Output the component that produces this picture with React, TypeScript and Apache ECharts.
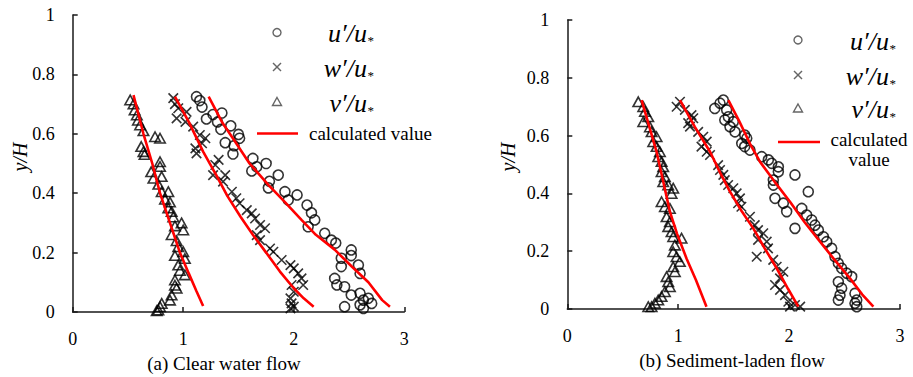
import React, { useEffect, useRef } from "react";
import * as echarts from "echarts";

// ---------- Data: (a) Clear water flow ----------
const uClear: number[][] = [
  [1.12, 0.725], [1.15, 0.712], [1.17, 0.69], [1.27, 0.665], [1.21, 0.65], [1.35, 0.67], [1.31, 0.64],
  [1.34, 0.615], [1.43, 0.627], [1.5, 0.598], [1.51, 0.585], [1.38, 0.57], [1.46, 0.56], [1.45, 0.532],
  [1.63, 0.517], [1.75, 0.5], [1.62, 0.475], [1.665, 0.489], [1.78, 0.44], [1.77, 0.418], [1.86, 0.461],
  [1.92, 0.405], [2.03, 0.394], [1.95, 0.377], [2.12, 0.36], [2.16, 0.334], [2.19, 0.31], [2.13, 0.287],
  [2.28, 0.265], [2.34, 0.242], [2.38, 0.232], [2.43, 0.181], [2.52, 0.209], [2.52, 0.19], [2.585, 0.158],
  [2.6, 0.13], [2.43, 0.153], [2.37, 0.113], [2.39, 0.091], [2.46, 0.085], [2.52, 0.057], [2.6, 0.063],
  [2.63, 0.04], [2.675, 0.046], [2.46, 0.018], [2.6, 0.024], [2.63, 0.012], [2.705, 0.029],
];
const wClear: number[][] = [
  [0.91, 0.72], [0.925, 0.7], [0.955, 0.686], [1.03, 0.674], [0.94, 0.652], [1.02, 0.64], [1.09, 0.624],
  [1.15, 0.596], [1.2, 0.585], [1.17, 0.568], [1.11, 0.551], [1.12, 0.534], [1.32, 0.512], [1.29, 0.495],
  [1.27, 0.461], [1.38, 0.461], [1.36, 0.439], [1.44, 0.405], [1.48, 0.383], [1.51, 0.366], [1.575, 0.343],
  [1.62, 0.332], [1.65, 0.315], [1.695, 0.293], [1.74, 0.282], [1.665, 0.259], [1.695, 0.242], [1.785, 0.214],
  [1.815, 0.203], [1.89, 0.175], [1.97, 0.158], [2.0, 0.147], [2.04, 0.13], [2.07, 0.113], [2.085, 0.091],
  [1.98, 0.091], [2.0, 0.068], [1.97, 0.046], [1.98, 0.029], [2.0, 0.018], [1.97, 0.012],
];
const vClear: number[][] = [
  [0.52, 0.714], [0.55, 0.7], [0.56, 0.68], [0.58, 0.663], [0.59, 0.646], [0.61, 0.63], [0.64, 0.61],
  [0.745, 0.59], [0.79, 0.585], [0.62, 0.557], [0.64, 0.54], [0.65, 0.53], [0.79, 0.506], [0.79, 0.49],
  [0.71, 0.472], [0.73, 0.45], [0.805, 0.456], [0.775, 0.43], [0.805, 0.405], [0.865, 0.405], [0.835, 0.38],
  [0.88, 0.37], [0.865, 0.35], [0.895, 0.338], [0.91, 0.32], [0.985, 0.3], [0.925, 0.29], [1.0, 0.276],
  [0.895, 0.26], [0.94, 0.24], [0.955, 0.22], [1.0, 0.203], [0.925, 0.19], [1.015, 0.18], [0.955, 0.158],
  [0.97, 0.14], [1.015, 0.125], [0.925, 0.108], [0.925, 0.09], [0.94, 0.08], [0.895, 0.057], [0.88, 0.04],
  [0.805, 0.029], [0.79, 0.018], [0.775, 0.007], [0.76, 0.004],
];
const uClearCalc: number[][] = [
  [1.23, 0.725], [1.35, 0.64], [1.47, 0.573], [1.6, 0.5], [1.77, 0.428], [1.92, 0.37], [2.07, 0.31],
  [2.2, 0.26], [2.37, 0.21], [2.52, 0.155], [2.675, 0.1], [2.8, 0.04], [2.87, 0.018],
];
const wClearCalc: number[][] = [
  [0.925, 0.725], [1.05, 0.64], [1.18, 0.54], [1.3, 0.46], [1.4, 0.39], [1.52, 0.32], [1.63, 0.26],
  [1.75, 0.2], [1.875, 0.136], [2.0, 0.08], [2.09, 0.046], [2.18, 0.018],
];
const vClearCalc: number[][] = [
  [0.55, 0.73], [0.64, 0.6], [0.72, 0.5], [0.79, 0.4], [0.88, 0.3], [0.97, 0.2], [1.05, 0.13],
  [1.12, 0.07], [1.18, 0.02],
];

// ---------- Data: (b) Sediment-laden flow ----------
const uSed: number[][] = [
  [1.407, 0.723], [1.377, 0.712], [1.33, 0.694], [1.437, 0.689], [1.452, 0.665], [1.42, 0.654], [1.497, 0.648],
  [1.467, 0.631], [1.512, 0.613], [1.6, 0.602], [1.618, 0.591], [1.573, 0.573], [1.6, 0.562], [1.647, 0.55],
  [1.753, 0.527], [1.813, 0.516], [1.843, 0.504], [1.903, 0.492], [1.903, 0.475], [2.053, 0.464], [1.858, 0.446],
  [1.858, 0.429], [2.173, 0.406], [1.873, 0.383], [1.948, 0.366], [1.978, 0.337], [2.053, 0.279], [2.114, 0.348],
  [2.159, 0.325], [2.204, 0.308], [2.234, 0.29], [2.264, 0.273], [2.309, 0.25], [2.339, 0.233], [2.384, 0.21],
  [2.414, 0.181], [2.444, 0.158], [2.474, 0.141], [2.519, 0.124], [2.564, 0.112], [2.444, 0.094], [2.474, 0.072],
  [2.459, 0.048], [2.444, 0.031], [2.594, 0.054], [2.61, 0.031], [2.594, 0.02], [2.61, 0.008],
];
const wSed: number[][] = [
  [1.016, 0.717], [0.986, 0.7], [1.06, 0.689], [1.12, 0.671], [1.136, 0.66], [1.09, 0.643], [1.106, 0.631],
  [1.18, 0.613], [1.226, 0.596], [1.257, 0.579], [1.21, 0.562], [1.257, 0.544], [1.287, 0.533], [1.36, 0.498],
  [1.377, 0.481], [1.407, 0.464], [1.42, 0.446], [1.45, 0.429], [1.497, 0.418], [1.527, 0.4], [1.557, 0.383],
  [1.54, 0.366], [1.57, 0.354], [1.647, 0.319], [1.69, 0.29], [1.72, 0.273], [1.767, 0.262], [1.72, 0.239],
  [1.798, 0.233], [1.81, 0.21], [1.708, 0.181], [1.857, 0.17], [1.888, 0.146], [1.948, 0.129], [1.918, 0.106],
  [1.873, 0.083], [1.918, 0.066], [1.963, 0.048], [1.993, 0.025], [2.053, 0.014], [2.1, 0.008], [2.008, 0.008],
];
const vSed: number[][] = [
  [0.64, 0.717], [0.685, 0.7], [0.7, 0.683], [0.73, 0.665], [0.685, 0.648], [0.745, 0.63], [0.76, 0.613],
  [0.805, 0.596], [0.775, 0.579], [0.805, 0.562], [0.835, 0.544], [0.82, 0.527], [0.85, 0.51], [0.865, 0.492],
  [0.85, 0.475], [0.88, 0.458], [0.865, 0.44], [0.91, 0.429], [0.955, 0.418], [0.94, 0.4], [0.85, 0.371],
  [0.88, 0.354], [0.925, 0.348], [0.895, 0.319], [0.925, 0.302], [0.91, 0.285], [0.94, 0.267], [0.955, 0.25],
  [1.03, 0.245], [0.97, 0.221], [0.955, 0.198], [0.985, 0.181], [1.015, 0.164], [0.955, 0.146], [0.97, 0.129],
  [0.895, 0.112], [0.91, 0.094], [0.925, 0.077], [0.88, 0.06], [0.85, 0.043], [0.82, 0.031], [0.79, 0.02],
  [0.76, 0.008], [0.73, 0.008],
];
const uSedCalc: number[][] = [
  [1.452, 0.723], [1.55, 0.65], [1.65, 0.57], [1.737, 0.51], [1.87, 0.44], [2.008, 0.371], [2.14, 0.3],
  [2.279, 0.233], [2.41, 0.17], [2.549, 0.106], [2.66, 0.05], [2.76, 0.008],
];
const wSedCalc: number[][] = [
  [1.016, 0.723], [1.15, 0.63], [1.287, 0.544], [1.38, 0.47], [1.467, 0.406], [1.57, 0.34], [1.677, 0.279],
  [1.78, 0.21], [1.888, 0.141], [1.99, 0.07], [2.083, 0.008],
];
const vSedCalc: number[][] = [
  [0.67, 0.723], [0.74, 0.63], [0.805, 0.544], [0.86, 0.45], [0.925, 0.337], [0.99, 0.26], [1.075, 0.175],
  [1.16, 0.1], [1.255, 0.008],
];

const xRange = { min: 0, max: 3, interval: 1 };
const yRange = { min: 0, max: 1, interval: 0.2 };
const panelTitles = ["(a) Clear water flow", "(b) Sediment-laden flow"];
const yAxisTitle = "y/H";
const legendMain = ["u′/u", "w′/u", "v′/u"];
const calcLabel = ["calculated value", "calculated\nvalue"];

const FONT = "Liberation Serif";
const CROSS = "path://M0,0L10,10M10,0L0,10";

export default function App() {
  const ref = useRef<HTMLDivElement>(null);

  useEffect(() => {
    if (!ref.current) return;
    const chart = echarts.init(ref.current, null, { renderer: "svg" });

    const axisLine = { show: true, onZero: false, lineStyle: { color: "#1a1a1a", width: 1.5 } };
    const axisTick = { show: true, inside: true, length: 5, lineStyle: { color: "#1a1a1a", width: 1.5 } };
    const axisLabel = { color: "#000", fontFamily: FONT, fontSize: 18, margin: 18 };

    const mkX = (i: number) => ({
      type: "value", gridIndex: i, ...xRange, axisLine, axisTick, axisLabel, splitLine: { show: false },
    });
    const mkY = (i: number) => ({
      type: "value", gridIndex: i, ...yRange, axisLine, axisTick, axisLabel, splitLine: { show: false },
    });

    const markerStyle = { color: "rgba(0,0,0,0)", borderColor: "#000", borderWidth: 1.6 };
    const scatter = (data: number[][], i: number, symbol: string, size: any) => ({
      type: "scatter", xAxisIndex: i, yAxisIndex: i, data, symbol, symbolSize: size,
      itemStyle: markerStyle, silent: true,
    });
    const line = (data: number[][], i: number) => ({
      type: "line", xAxisIndex: i, yAxisIndex: i, data, symbol: "none", showSymbol: false,
      lineStyle: { color: "#ff0000", width: 2.6 }, silent: true, z: 5,
    });

    const legendGraphics = (mx: number, rows: number[], tx: number, textRows: number[],
      lineX: number[], lineY: number, calcX: number, calcY: number, calcAlign: string, calcText: string) => {
      const gray = "#666";
      const els: any[] = [];
      els.push({ type: "circle", shape: { cx: mx, cy: rows[0], r: 4 }, style: { fill: "none", stroke: gray, lineWidth: 1.4 } });
      els.push({ type: "line", shape: { x1: mx - 4, y1: rows[1] - 4, x2: mx + 4, y2: rows[1] + 4 }, style: { stroke: gray, lineWidth: 1.4 } });
      els.push({ type: "line", shape: { x1: mx - 4, y1: rows[1] + 4, x2: mx + 4, y2: rows[1] - 4 }, style: { stroke: gray, lineWidth: 1.4 } });
      els.push({ type: "polygon", shape: { points: [[mx, rows[2] - 4.5], [mx + 4.5, rows[2] + 3.5], [mx - 4.5, rows[2] + 3.5]] }, style: { fill: "none", stroke: gray, lineWidth: 1.4 } });
      legendMain.forEach((t, k) => {
        els.push({ type: "text", x: tx, y: textRows[k], style: { text: t, fontFamily: FONT, fontStyle: "italic", fontSize: 26, fill: "#000", textAlign: "right", textVerticalAlign: "middle" } });
        els.push({ type: "text", x: tx + 0.5, y: textRows[k] + 7, style: { text: "*", fontFamily: FONT, fontSize: 13, fill: "#000", textAlign: "left", textVerticalAlign: "middle" } });
      });
      els.push({ type: "line", shape: { x1: lineX[0], y1: lineY, x2: lineX[1], y2: lineY }, style: { stroke: "#ff0000", lineWidth: 2.6 } });
      els.push({ type: "text", x: calcX, y: calcY, style: { text: calcText, fontFamily: FONT, fontSize: 19, lineHeight: 20, fill: "#000", textAlign: calcAlign, textVerticalAlign: "top" } });
      return els;
    };

    const graphic: any[] = [
      { type: "text", x: 20, y: 157, rotation: Math.PI / 2, style: { text: yAxisTitle, fontFamily: FONT, fontStyle: "italic", fontSize: 20, fill: "#000", textAlign: "center", textVerticalAlign: "middle" } },
      { type: "text", x: 508, y: 157, rotation: Math.PI / 2, style: { text: yAxisTitle, fontFamily: FONT, fontStyle: "italic", fontSize: 20, fill: "#000", textAlign: "center", textVerticalAlign: "middle" } },
      { type: "text", x: 224, y: 363, style: { text: panelTitles[0], fontFamily: FONT, fontSize: 19, fill: "#000", textAlign: "center", textVerticalAlign: "middle" } },
      { type: "text", x: 732, y: 360, style: { text: panelTitles[1], fontFamily: FONT, fontSize: 19, fill: "#000", textAlign: "center", textVerticalAlign: "middle" } },
      ...legendGraphics(277, [32.5, 67, 102], 367, [33, 68, 103], [257, 298], 133.5, 309, 123, "left", calcLabel[0]),
      ...legendGraphics(798, [40, 75, 108.5], 889, [41, 76, 109], [778, 820], 142, 869, 129, "center", calcLabel[1]),
    ];

    chart.setOption({
      animation: false,
      backgroundColor: "#fff",
      grid: [
        { left: 72.7, top: 15, width: 331.6, height: 297, containLabel: false },
        { left: 567.3, top: 20, width: 332.7, height: 289, containLabel: false },
      ],
      xAxis: [mkX(0), mkX(1)],
      yAxis: [mkY(0), mkY(1)],
      series: [
        scatter(uClear, 0, "circle", 10),
        scatter(wClear, 0, CROSS, 9.5),
        scatter(vClear, 0, "triangle", [10.5, 9.5]),
        line(uClearCalc, 0),
        line(wClearCalc, 0),
        line(vClearCalc, 0),
        scatter(uSed, 1, "circle", 10),
        scatter(wSed, 1, CROSS, 9.5),
        scatter(vSed, 1, "triangle", [10.5, 9.5]),
        line(uSedCalc, 1),
        line(wSedCalc, 1),
        line(vSedCalc, 1),
      ],
      graphic,
    });

    return () => chart.dispose();
  }, []);

  return (
    <div
      ref={ref}
      style={{ position: "absolute", left: 0, top: 0, width: 913, height: 377, background: "#fff" }}
    />
  );
}
